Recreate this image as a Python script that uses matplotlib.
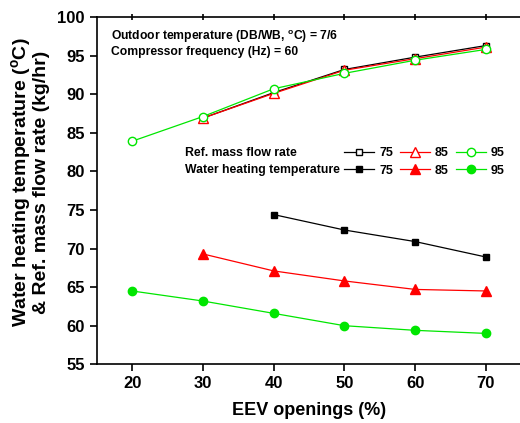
import matplotlib.pyplot as plt
from matplotlib.lines import Line2D

plt.rcParams['font.family'] = ['Liberation Sans', 'DejaVu Sans']
plt.rcParams['font.weight'] = 'bold'

# EEV openings (%)
eev = [20, 30, 40, 50, 60, 70]

# Ref. mass flow rate (kg/hr)
flow_75 = [None, 86.9, 90.2, 93.2, 94.8, 96.3]
flow_85 = [None, 86.9, 90.1, 93.1, 94.6, 96.1]
flow_95 = [83.9, 87.1, 90.7, 92.7, 94.4, 95.8]

# Water heating temperature (C)
water_75 = [None, None, 74.4, 72.4, 70.9, 68.9]
water_85 = [None, 69.3, 67.1, 65.8, 64.7, 64.5]
water_95 = [64.5, 63.2, 61.6, 60.0, 59.4, 59.0]

labels = ['75', '85', '95']
colors = ['black', 'red', '#00e600']
markers = ['s', '^', 'o']
msizes = [5, 7, 6]


def xy(vals):
    pts = [(x, v) for x, v in zip(eev, vals) if v is not None]
    return [p[0] for p in pts], [p[1] for p in pts]


fig = plt.figure(figsize=(5.2, 4.23), dpi=100)
ax = fig.add_axes([0.186, 0.1388, 0.8165, 0.821])

for vals, c, m, ms in zip([flow_75, flow_85, flow_95], colors, markers, msizes):
    x, y = xy(vals)
    ax.plot(x, y, color=c, lw=0.9, marker=m, ms=ms, mfc='white', mec=c, mew=1)

for vals, c, m, ms in zip([water_75, water_85, water_95], colors, markers, msizes):
    x, y = xy(vals)
    ax.plot(x, y, color=c, lw=0.9, marker=m, ms=ms, mfc=c, mec=c)

ax.set_xlim(15, 75)
ax.set_ylim(55, 100)
ax.set_xticks(eev)
ax.set_yticks(range(55, 101, 5))
ax.spines['right'].set_visible(False)
for s in ax.spines.values():
    s.set_linewidth(1.2)
ax.tick_params(axis='both', direction='out', length=5, width=1.2, labelsize=12)
ax.tick_params(axis='x', which='major', top=True)
for t in ax.xaxis.get_major_ticks():
    t.tick2line.set_marker('|')
    t.tick2line.set_markersize(4)
for t in ax.get_xticklabels() + ax.get_yticklabels():
    t.set_fontweight('bold')

ax.set_xlabel('EEV openings (%)', fontsize=13, fontweight='bold', labelpad=8)
ax.set_ylabel('Water heating temperature ($\\mathregular{^{o}}$C)\n& Ref. mass flow rate (kg/hr)',
              fontsize=14, fontweight='bold', linespacing=1.0)
ax.yaxis.set_label_coords(-0.11, 0.523)

ax.text(0.033, 0.945, 'Outdoor temperature (DB/WB, $\\mathregular{^{o}}$C) = 7/6',
        transform=ax.transAxes, fontsize=8.7, fontweight='bold', va='center')
ax.text(0.033, 0.898, 'Compressor frequency (Hz) = 60',
        transform=ax.transAxes, fontsize=8.7, fontweight='bold', va='center')

handles = []
for c, m, ms in zip(colors, markers, msizes):
    handles.append(Line2D([], [], color=c, lw=0.9, marker=m, ms=ms, mfc='white', mec=c))
    handles.append(Line2D([], [], color=c, lw=0.9, marker=m, ms=ms, mfc=c, mec=c))
leg_labels = [l for l in labels for _ in range(2)]
ax.legend(handles, leg_labels, ncol=3, loc='upper left', frameon=False,
          bbox_to_anchor=(344 / 520, 1 - 147 / 423), bbox_transform=fig.transFigure,
          borderpad=0, borderaxespad=0, handlelength=2.4, handletextpad=0.4,
          columnspacing=0.55, labelspacing=0.45, prop={'weight': 'bold', 'size': 9})

fig.text(185 / 520, 1 - 153 / 423, 'Ref. mass flow rate', fontsize=8.8, fontweight='bold', va='center')
fig.text(185 / 520, 1 - 170 / 423, 'Water heating temperature', fontsize=8.8, fontweight='bold', va='center')

fig.savefig('out.png', dpi=100)
